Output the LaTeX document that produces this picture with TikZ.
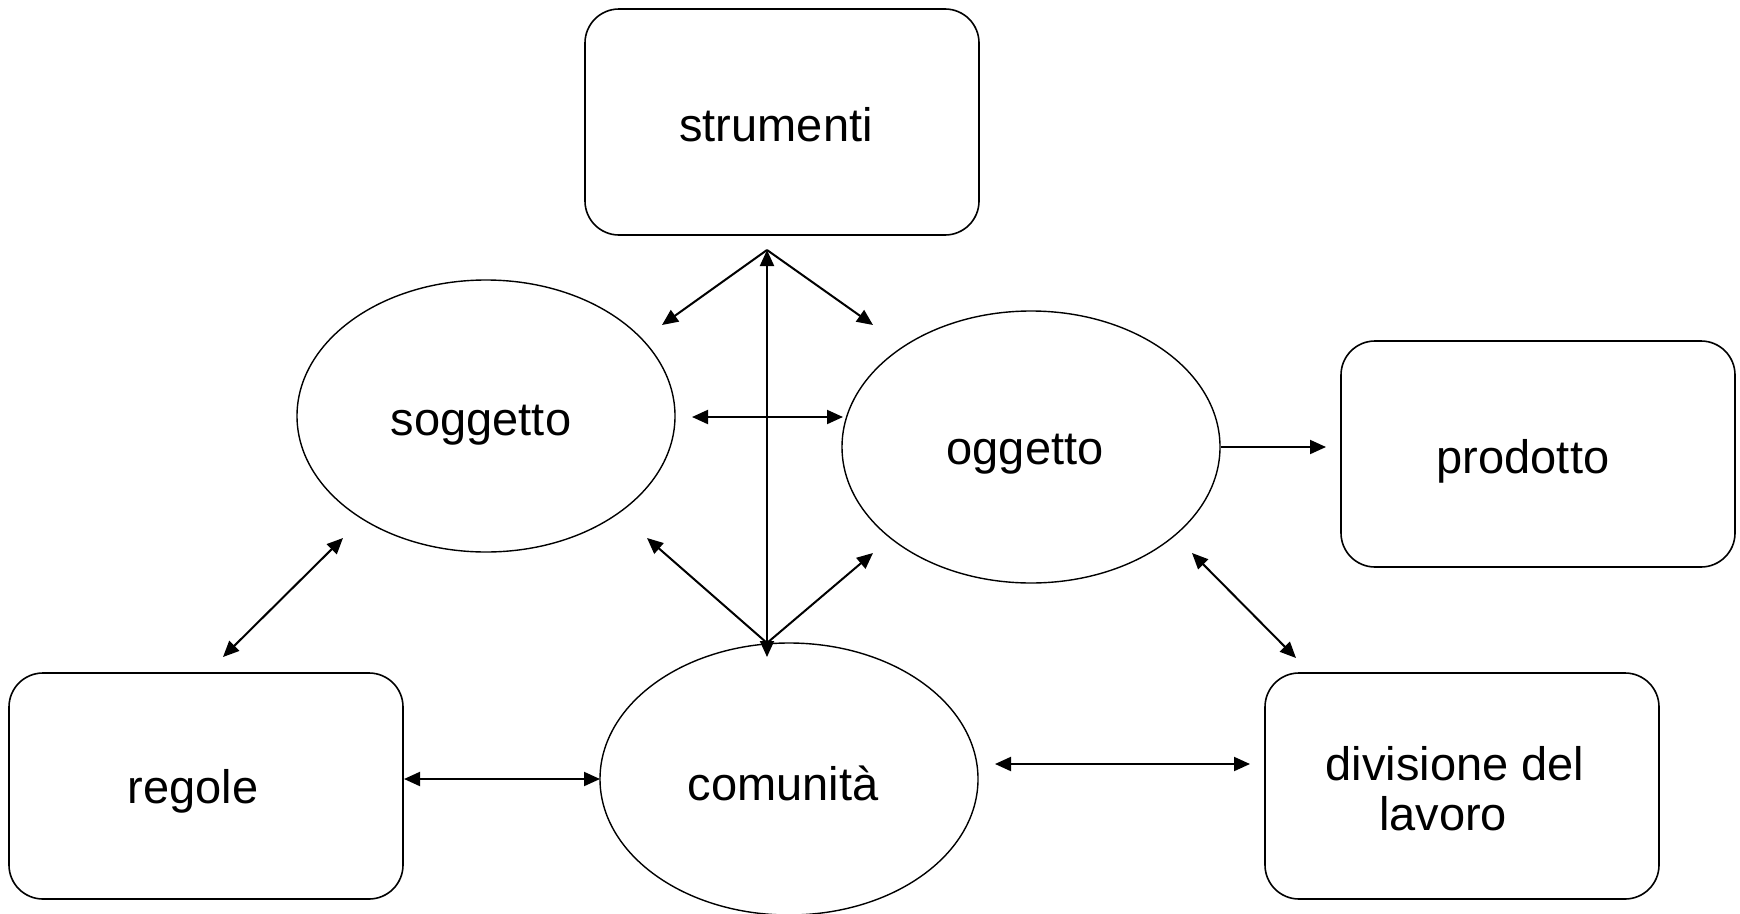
\documentclass[tikz,border=0pt]{standalone}
\usepackage{fontspec}
\setmainfont{Liberation Sans}
\usetikzlibrary{shapes.geometric,arrows.meta}
\begin{document}
\begin{tikzpicture}[x=1pt,y=-1pt,
  lbl/.style={font=\fontsize{47}{50}\selectfont,anchor=base,inner sep=0pt},
  boxnode/.style={draw,line width=1.6pt,rounded corners=34pt,minimum width=394pt,minimum height=226pt,inner sep=0pt},
  ellnode/.style={draw,ellipse,line width=1.4pt,minimum width=378pt,minimum height=272pt,inner sep=0pt},
  conn/.style={line width=2pt},
  tip/.style={-{Triangle[length=16pt,width=14pt]}},
  dtip/.style={{Triangle[length=16pt,width=14pt]}-{Triangle[length=16pt,width=14pt]}}]
\useasboundingbox (0,0) rectangle (1740,913);
% shapes
\node[boxnode] (strumenti) at (782,122) {};
\node[boxnode] (prodotto) at (1538,454) {};
\node[boxnode] (regole) at (206,786) {};
\node[boxnode] (divisione) at (1462,786) {};
\node[ellnode] (soggetto) at (486,416) {};
\node[ellnode] (oggetto) at (1031,447) {};
\node[ellnode] (comunita) at (789,779) {};
% texts
\node[lbl] (strumentiT) at (776,141) {strumenti};
\node[lbl] (soggettoT) at (481,435) {soggetto};
\node[lbl] (oggettoT) at (1025,464) {oggetto};
\node[lbl] (prodottoT) at (1523,473) {prodotto};
\node[lbl] (regoleT) at (193,803) {regole};
\node[lbl] (comunitaT) at (783,800) {comunità};
\node[lbl] (divisioneT) at (1455,780) {divisione del};
\node[lbl] (lavoroT) at (1443,830) {lavoro};
% free ends of connectors
\coordinate (hubT) at (767,250);
\coordinate (hubB) at (767,643);
\coordinate (vB) at (767,657);
\coordinate (sT) at (662,325);
\coordinate (oT) at (873,325);
\coordinate (sB) at (647,538);
\coordinate (oB) at (873,553);
\coordinate (soL) at (692,417);
\coordinate (soR) at (843,417);
\coordinate (opL) at (1221,447);
\coordinate (opR) at (1326,447);
\coordinate (odA) at (1192,553);
\coordinate (odB) at (1296,658);
\coordinate (srA) at (343,538);
\coordinate (srB) at (223,657);
\coordinate (rcA) at (404,779);
\coordinate (rcB) at (600,779);
\coordinate (cdA) at (995,764);
\coordinate (cdB) at (1250,764);
\draw[conn,dtip] (vB) -- (hubT);
\draw[conn,tip] (hubT) -- (sT);
\draw[conn,tip] (hubT) -- (oT);
\draw[conn,tip] (hubB) -- (sB);
\draw[conn,tip] (hubB) -- (oB);
\draw[conn,dtip] (soL) -- (soR);
\draw[conn,tip] (opL) -- (opR);
\draw[conn,dtip] (odA) -- (odB);
\draw[conn,dtip] (srA) -- (srB);
\draw[conn,dtip] (rcA) -- (rcB);
\draw[conn,dtip] (cdA) -- (cdB);
\end{tikzpicture}
\end{document}
